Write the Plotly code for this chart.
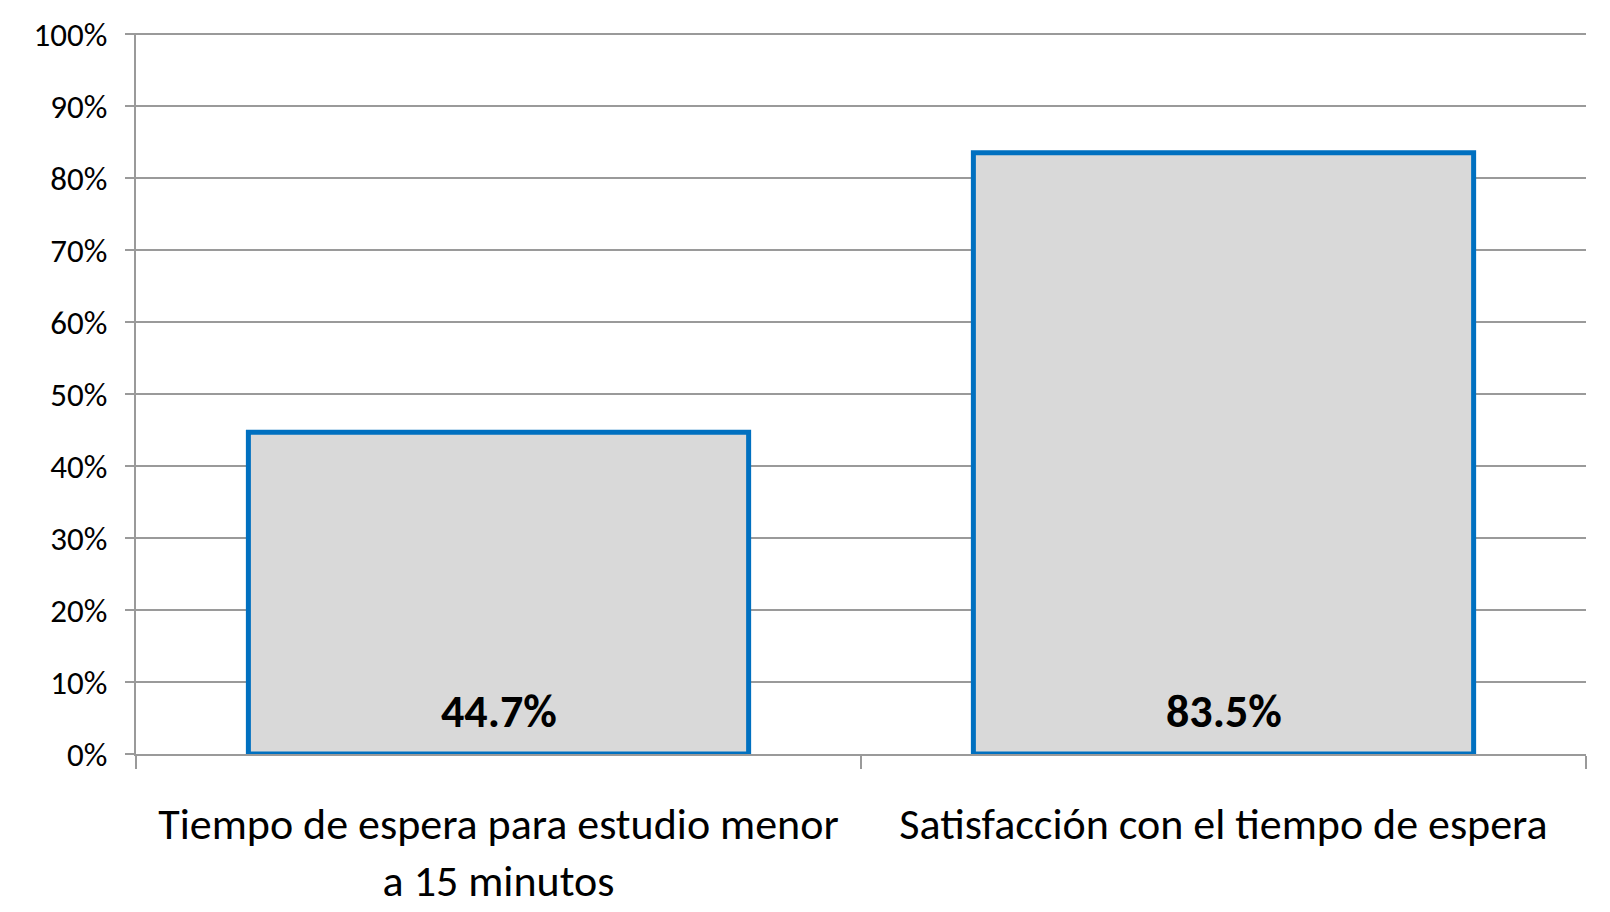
import plotly.graph_objects as go

categories = ["Tiempo de espera para estudio menor<br>a 15 minutos",
              "Satisfacción con el tiempo de espera"]
values = [0.447, 0.835]
value_labels = ["44.7%", "83.5%"]
y_ticks = [i / 10 for i in range(11)]

FONT = "Carlito, Calibri, Lato, sans-serif"

fig = go.Figure()
fig.add_trace(go.Bar(
    x=categories, y=values,
    marker=dict(color="#D9D9D9", line=dict(color="#0070C0", width=5)),
    hoverinfo="skip",
))

for c, v, lab in zip(categories, values, value_labels):
    fig.add_annotation(x=c, y=0, yref="y", xref="x", text="<b>" + lab + "</b>",
                       showarrow=False, yanchor="middle", yshift=43,
                       font=dict(family=FONT, size=46, color="#000000"))

fig.update_layout(
    width=1610, height=912,
    margin=dict(l=128, r=32, t=25, b=166, autoexpand=False),
    paper_bgcolor="white", plot_bgcolor="white",
    bargap=0.31,
    showlegend=False,
    font=dict(family=FONT, color="#000000"),
)
fig.update_yaxes(
    range=[0, 1.0015], tickvals=y_ticks, tickformat=".0%",
    showgrid=True, gridcolor="#9A9A9A", gridwidth=2,
    showline=True, linecolor="#9A9A9A", linewidth=2,
    ticks="outside", ticklen=9, tickcolor="#9A9A9A", tickwidth=2,
    tickfont=dict(family=FONT, size=33, color="#000000"),
    ticklabelstandoff=11, zeroline=False, automargin=False,
)
fig.update_xaxes(
    showline=True, linecolor="#9A9A9A", linewidth=2,
    ticks="outside", tickson="boundaries", ticklen=13, tickcolor="#9A9A9A", tickwidth=2,
    tickfont=dict(family=FONT, size=44, color="#000000"),
    ticklabelstandoff=30, automargin=False,
)

fig.write_html("out.html")
